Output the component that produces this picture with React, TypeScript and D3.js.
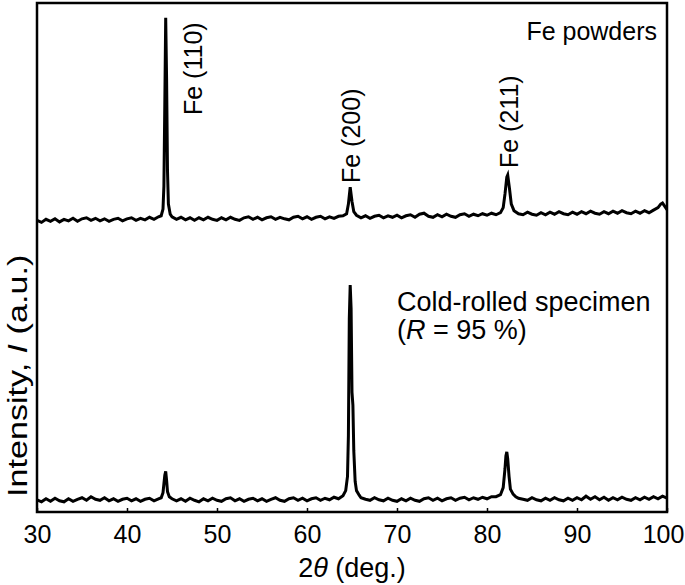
import React, { useEffect, useRef } from 'react';
import * as d3 from 'd3';

// 2theta (deg) / intensity (a.u.)
const powderTheta = [30.0, 30.5, 31.0, 31.5, 32.0, 32.5, 33.0, 33.5, 34.0, 34.5, 35.0, 35.5, 36.0, 36.5, 37.0, 37.5, 38.0, 38.5, 39.0, 39.5, 40.0, 40.5, 41.0, 41.5, 42.0, 42.5, 43.0, 43.5, 43.8, 44.0, 44.1, 44.2, 44.3, 44.4, 44.5, 44.6, 44.8, 45.0, 45.5, 46.0, 46.5, 47.0, 47.5, 48.0, 48.5, 49.0, 49.5, 50.0, 50.5, 51.0, 51.5, 52.0, 52.5, 53.0, 53.5, 54.0, 54.5, 55.0, 55.5, 56.0, 56.5, 57.0, 57.5, 58.0, 58.5, 59.0, 59.5, 60.0, 60.5, 61.0, 61.5, 62.0, 62.5, 63.0, 63.5, 64.0, 64.4, 64.6, 64.8, 65.0, 65.2, 65.5, 66.0, 66.5, 67.0, 67.5, 68.0, 68.5, 69.0, 69.5, 70.0, 70.5, 71.0, 71.5, 72.0, 72.5, 73.0, 73.5, 74.0, 74.5, 75.0, 75.5, 76.0, 76.5, 77.0, 77.5, 78.0, 78.5, 79.0, 79.5, 80.0, 80.5, 81.0, 81.5, 81.8, 82.0, 82.2, 82.3, 82.5, 82.7, 83.0, 83.5, 84.0, 84.5, 85.0, 85.5, 86.0, 86.5, 87.0, 87.5, 88.0, 88.5, 89.0, 89.5, 90.0, 90.5, 91.0, 91.5, 92.0, 92.5, 93.0, 93.5, 94.0, 94.5, 95.0, 95.5, 96.0, 96.5, 97.0, 97.5, 98.0, 98.5, 99.0, 99.3, 99.5, 99.7, 100.0];
const powderI = [23, 19, 25, 21, 26, 20, 25, 22, 27, 21, 26, 28, 23, 27, 22, 26, 21, 25, 27, 22, 26, 28, 23, 27, 24, 29, 25, 30, 32, 45, 90, 250, 421, 300, 120, 55, 35, 30, 25, 29, 24, 28, 23, 28, 24, 29, 25, 23, 28, 24, 29, 25, 23, 28, 30, 25, 29, 24, 28, 30, 25, 29, 26, 24, 29, 31, 26, 30, 25, 29, 31, 26, 30, 27, 31, 32, 36, 55, 88, 60, 40, 33, 28, 32, 27, 31, 33, 28, 32, 29, 33, 28, 32, 34, 29, 35, 37, 31, 29, 34, 30, 35, 31, 29, 34, 36, 31, 35, 32, 36, 33, 37, 34, 38, 48, 75, 108, 112, 85, 55, 42, 36, 34, 39, 35, 33, 38, 34, 39, 35, 40, 36, 34, 39, 35, 40, 36, 41, 37, 35, 40, 36, 41, 37, 42, 38, 36, 41, 37, 42, 38, 43, 48, 55, 57, 52, 44];

const rolledTheta = [30.0, 30.5, 31.0, 31.5, 32.0, 32.5, 33.0, 33.5, 34.0, 34.5, 35.0, 35.5, 36.0, 36.5, 37.0, 37.5, 38.0, 38.5, 39.0, 39.5, 40.0, 40.5, 41.0, 41.5, 42.0, 42.5, 43.0, 43.5, 43.8, 44.0, 44.1, 44.2, 44.3, 44.4, 44.5, 44.7, 45.0, 45.5, 46.0, 46.5, 47.0, 47.5, 48.0, 48.5, 49.0, 49.5, 50.0, 50.5, 51.0, 51.5, 52.0, 52.5, 53.0, 53.5, 54.0, 54.5, 55.0, 55.5, 56.0, 56.5, 57.0, 57.5, 58.0, 58.5, 59.0, 59.5, 60.0, 60.5, 61.0, 61.5, 62.0, 62.5, 63.0, 63.5, 64.0, 64.3, 64.5, 64.6, 64.7, 64.8, 64.9, 65.0, 65.1, 65.2, 65.35, 65.5, 65.8, 66.0, 66.5, 67.0, 67.5, 68.0, 68.5, 69.0, 69.5, 70.0, 70.5, 71.0, 71.5, 72.0, 72.5, 73.0, 73.5, 74.0, 74.5, 75.0, 75.5, 76.0, 76.5, 77.0, 77.5, 78.0, 78.5, 79.0, 79.5, 80.0, 80.5, 81.0, 81.5, 81.8, 82.0, 82.1, 82.2, 82.3, 82.45, 82.6, 82.9, 83.2, 83.5, 84.0, 84.5, 85.0, 85.5, 86.0, 86.5, 87.0, 87.5, 88.0, 88.5, 89.0, 89.5, 90.0, 90.5, 91.0, 91.5, 92.0, 92.5, 93.0, 93.5, 94.0, 94.5, 95.0, 95.5, 96.0, 96.5, 97.0, 97.5, 98.0, 98.5, 99.0, 99.5, 100.0];
const rolledI = [24, 20, 26, 21, 27, 22, 20, 26, 21, 25, 28, 23, 30, 25, 23, 28, 22, 26, 21, 25, 27, 22, 26, 21, 25, 27, 22, 26, 28, 38, 55, 72, 80, 62, 40, 30, 26, 22, 26, 21, 27, 23, 20, 26, 22, 27, 23, 21, 26, 28, 22, 26, 21, 25, 27, 22, 26, 21, 25, 28, 23, 21, 26, 28, 23, 27, 22, 26, 28, 23, 27, 24, 29, 26, 32, 42, 70, 150, 380, 446, 400, 235, 210, 120, 60, 42, 33, 28, 25, 23, 28, 24, 22, 27, 23, 21, 26, 22, 27, 23, 21, 26, 28, 23, 27, 22, 26, 28, 23, 27, 29, 24, 28, 25, 29, 26, 30, 30, 34, 48, 85, 110, 118, 105, 70, 45, 35, 30, 27, 25, 23, 28, 24, 22, 27, 23, 28, 24, 22, 27, 23, 28, 24, 31, 25, 30, 24, 29, 23, 28, 24, 29, 25, 23, 28, 24, 29, 25, 30, 26, 31, 27];

const xTicks = [30, 40, 50, 60, 70, 80, 90, 100];
const peakNames = ['Fe (110)', 'Fe (200)', 'Fe (211)'];
const peakTheta = [44.3, 64.8, 82.3];

const powderOffset = 550;
const font = '"Liberation Sans", Arial, sans-serif';

export default function App() {
  const ref = useRef<SVGSVGElement>(null);

  useEffect(() => {
    const width = 685, height = 585;
    const m = { top: 3, right: 18, bottom: 73, left: 37 };
    const svg = d3.select(ref.current);
    svg.selectAll('*').remove();

    const x = d3.scaleLinear().domain([30, 100]).range([m.left, width - m.right]);
    const y = d3.scaleLinear().domain([0, 1000]).range([height - m.bottom, m.top]);

    const line = d3.line<[number, number]>()
      .x(d => x(d[0]))
      .y(d => y(d[1]));

    const powder = powderTheta.map((t, i) => [t, powderI[i] + powderOffset] as [number, number]);
    const rolled = rolledTheta.map((t, i) => [t, rolledI[i]] as [number, number]);

    svg.append('defs').append('clipPath').attr('id', 'plot')
      .append('rect')
      .attr('x', m.left).attr('y', m.top)
      .attr('width', width - m.left - m.right).attr('height', height - m.top - m.bottom);

    const g = svg.append('g').attr('clip-path', 'url(#plot)');
    [powder, rolled].forEach(d => {
      g.append('path')
        .datum(d)
        .attr('fill', 'none')
        .attr('stroke', '#000')
        .attr('stroke-width', 3)
        .attr('stroke-linejoin', 'miter')
        .attr('d', line);
    });

    // bottom axis, ticks pointing inward
    const axis = svg.append('g')
      .attr('transform', `translate(0,${height - m.bottom})`)
      .call(d3.axisBottom(x).tickValues(xTicks).tickSizeInner(-4).tickSizeOuter(0).tickPadding(10));
    axis.select('.domain').remove();
    axis.selectAll('line').attr('stroke', '#000').attr('stroke-width', 1.5);
    axis.selectAll('text')
      .attr('font-family', font)
      .attr('font-size', 25)
      .attr('fill', '#000')
      .attr('dy', '0.85em');
    // last label sits right at the page edge
    axis.selectAll<SVGTextElement, number>('text')
      .filter(d => d === 100)
      .attr('x', -4);

    svg.append('rect')
      .attr('x', m.left).attr('y', m.top)
      .attr('width', width - m.left - m.right).attr('height', height - m.top - m.bottom)
      .attr('fill', 'none').attr('stroke', '#000').attr('stroke-width', 2.5);

    // peak labels, reading upward
    const labelX = [x(peakTheta[0]) + 36, x(peakTheta[1]) + 10, x(peakTheta[2]) + 10];
    const labelY = [115, 183, 168];
    peakNames.forEach((name, i) => {
      svg.append('text')
        .attr('transform', `translate(${labelX[i]},${labelY[i]}) rotate(-90)`)
        .attr('font-family', font)
        .attr('font-size', 25)
        .text(name);
    });

    svg.append('text')
      .attr('x', 657).attr('y', 40)
      .attr('text-anchor', 'end')
      .attr('font-family', font).attr('font-size', 25)
      .text('Fe powders');

    svg.append('text')
      .attr('x', 397).attr('y', 311)
      .attr('font-family', font).attr('font-size', 27)
      .text('Cold-rolled specimen');

    const r = svg.append('text')
      .attr('x', 397).attr('y', 339)
      .attr('font-family', font).attr('font-size', 27);
    r.append('tspan').text('(');
    r.append('tspan').attr('font-style', 'italic').text('R');
    r.append('tspan').text(' = 95 %)');

    const xl = svg.append('text')
      .attr('x', 352).attr('y', 577)
      .attr('text-anchor', 'middle')
      .attr('font-family', font).attr('font-size', 27);
    xl.append('tspan').text('2');
    xl.append('tspan').attr('font-style', 'italic').text('\u03b8');
    xl.append('tspan').text(' (deg.)');

    // the source figure's y title is drawn stretched along its length
    const yl = svg.append('text')
      .attr('transform', 'translate(27,497) rotate(-90) scale(1.22,1)')
      .attr('font-family', font).attr('font-size', 28);
    yl.append('tspan').text('Intensity, ');
    yl.append('tspan').attr('font-style', 'italic').text('I');
    yl.append('tspan').text(' (a.u.)');
  }, []);

  return (
    <svg ref={ref} width={685} height={585}
      style={{ position: 'absolute', left: 0, top: 0, background: '#fff' }} />
  );
}
